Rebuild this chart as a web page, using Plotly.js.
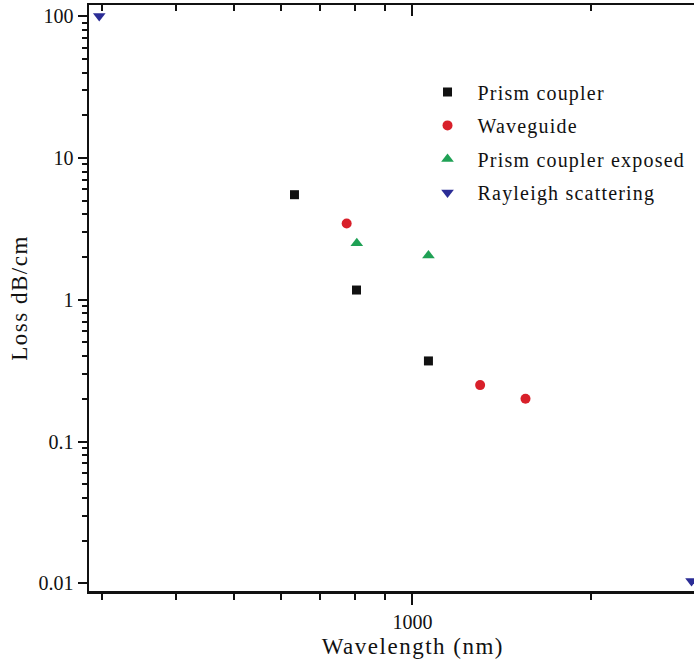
<!DOCTYPE html>
<html>
<head>
<meta charset="utf-8">
<script src="https://cdn.plot.ly/plotly-3.0.1.min.js"></script>
<style>
html,body{margin:0;padding:0;background:#fff;}
#chart{width:694px;height:663px;}
text.ytitle, text.xlabel-title{letter-spacing:1.5px;}
text.legendtext{letter-spacing:1.2px;}
</style>
</head>
<body>
<div id="chart"></div>
<script>
// Data (wavelength in nm, loss in dB/cm)
const prismX = [633, 805, 1064];
const prismY = [5.5, 1.17, 0.37];
const waveguideX = [775, 1300, 1550];
const waveguideY = [3.45, 0.25, 0.2];
const exposedX = [806, 1064];
const exposedY = [2.5, 2.05];
const rayleighX = [297, 2950];
const rayleighY = [100, 0.0104];

const seriesNames = ["Prism coupler", "Waveguide", "Prism coupler exposed", "Rayleigh scattering"];
const xTitle = "Wavelength (nm)";
const yTitle = "Loss dB/cm";

const yMajor = [0.01, 0.1, 1, 10, 100];
const yMajorText = ["0.01", "0.1", "1", "10", "100"];
const yMinor = [];
[0.01, 0.1, 1, 10].forEach(d => { for (let k = 2; k <= 9; k++) yMinor.push(+(d * k).toPrecision(3)); });
const xMajor = [1000];
const xMajorText = ["1000"];
const xMinor = [300, 400, 500, 600, 700, 800, 900, 2000];

const font = "Liberation Serif, Times New Roman, serif";
const xRange = [2.4555, 3.474];
const yRange = [-2.054, 2.078];

function tr(x, y, name, symbol, color, size, group) {
  return {
    x: x, y: y, name: name, type: "scatter", mode: "markers",
    legendgroup: group,
    marker: {symbol: symbol, color: color, size: size, line: {width: 0}},
    cliponaxis: true
  };
}

const data = [
  tr(prismX, prismY, seriesNames[0], "square", "#111111", 9, "a"),
  tr(waveguideX, waveguideY, seriesNames[1], "circle", "#d8202a", 10, "b"),
  tr(exposedX, exposedY, seriesNames[2], "triangle-up", "#1fa155", 11, "c"),
  tr(rayleighX, rayleighY, seriesNames[3], "triangle-down", "#2b2d96", 11, "d"),
  {x: [1000], y: [1], xaxis: "x2", yaxis: "y", type: "scatter", mode: "markers",
   marker: {opacity: 0}, showlegend: false, hoverinfo: "skip"}
];

const layout = {
  width: 694, height: 663,
  margin: {l: 89, r: 0, t: 5, b: 72},
  paper_bgcolor: "#fff", plot_bgcolor: "#fff",
  font: {family: font, size: 20, color: "#111"},
  showlegend: true,
  legend: {
    x: 0.543, y: 0.885, xanchor: "left", yanchor: "top",
    bgcolor: "rgba(0,0,0,0)", borderwidth: 0,
    font: {family: font, size: 20, color: "#111"},
    itemwidth: 50, tracegroupgap: 4.5, traceorder: "grouped"
  },
  xaxis: {
    type: "log", range: xRange,
    showline: true, linewidth: 2.5, linecolor: "#111", mirror: false,
    showgrid: false, zeroline: false,
    tickmode: "array", tickvals: xMajor, ticktext: xMajorText,
    ticks: "outside", ticklen: 11, tickwidth: 2, tickcolor: "#111",
    minor: {tickmode: "array", tickvals: xMinor, ticks: "outside", ticklen: 6, tickwidth: 2, tickcolor: "#111", showgrid: false},
    tickfont: {family: font, size: 20, color: "#111"}
  },
  xaxis2: {
    type: "log", range: xRange, overlaying: "x", side: "top",
    showline: true, linewidth: 2.5, linecolor: "#111",
    showgrid: false, zeroline: false, showticklabels: false,
    tickmode: "array", tickvals: xMajor,
    ticks: "inside", ticklen: 11, tickwidth: 2, tickcolor: "#111",
    minor: {tickmode: "array", tickvals: xMinor, ticks: "inside", ticklen: 6, tickwidth: 2, tickcolor: "#111", showgrid: false}
  },
  yaxis: {
    type: "log", range: yRange,
    showline: true, linewidth: 2.5, linecolor: "#111", mirror: false,
    showgrid: false, zeroline: false,
    tickmode: "array", tickvals: yMajor, ticktext: yMajorText,
    ticks: "outside", ticklen: 9, tickwidth: 2, tickcolor: "#111",
    minor: {tickmode: "array", tickvals: yMinor, ticks: "outside", ticklen: 5, tickwidth: 2, tickcolor: "#111", showgrid: false},
    tickfont: {family: font, size: 20, color: "#111"},
    title: {text: yTitle, font: {family: font, size: 23, color: "#111"}, standoff: 5}
  },
  annotations: [{
    text: xTitle, xref: "paper", yref: "paper", x: 0.5355, y: 0,
    xanchor: "center", yanchor: "middle", yshift: -55, showarrow: false,
    font: {family: font, size: 23, color: "#111"}, captureevents: false,
    name: "xlabel-title"
  }]
};

Plotly.newPlot("chart", data, layout, {displayModeBar: false, staticPlot: true}).then(() => {
  document.querySelectorAll("#chart .annotation-text").forEach(t => t.classList.add("xlabel-title"));
});
</script>
</body>
</html>
